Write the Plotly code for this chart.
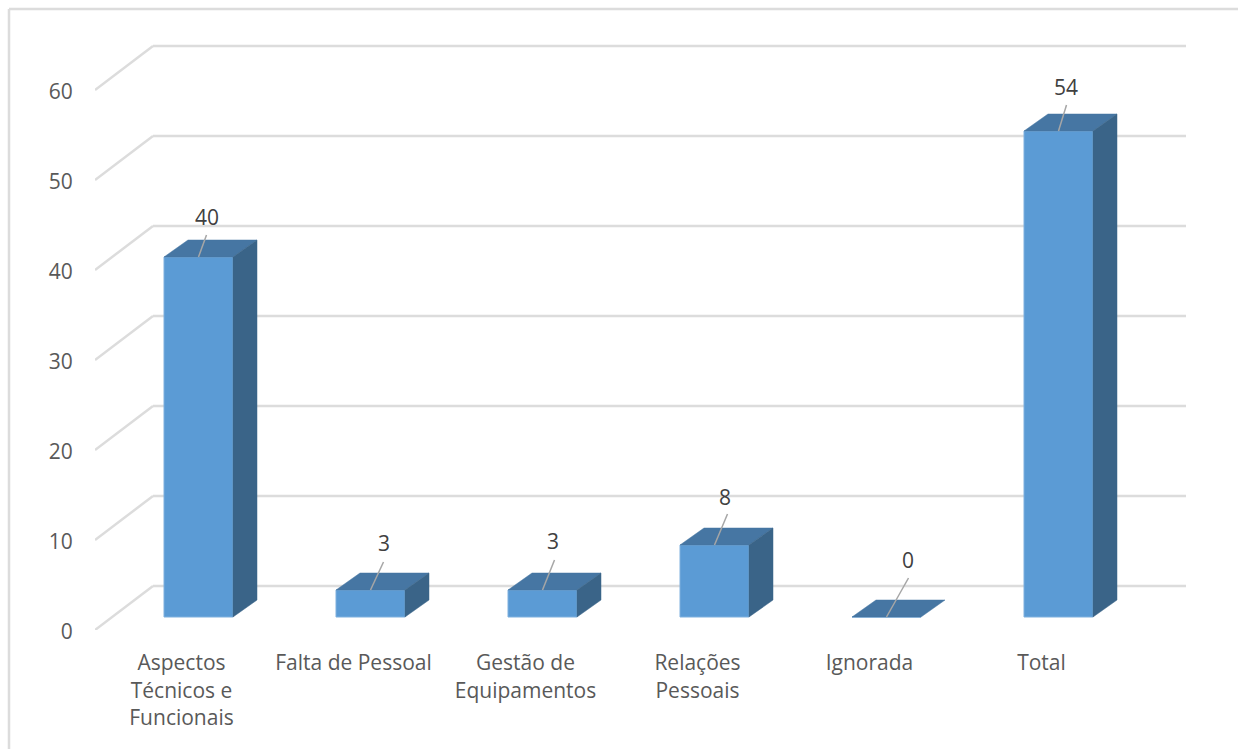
import plotly.graph_objects as go

# Data
categories = ["Aspectos<br>Técnicos e<br>Funcionais", "Falta de Pessoal", "Gestão de<br>Equipamentos",
              "Relações<br>Pessoais", "Ignorada", "Total"]
values = [40, 3, 3, 8, 0, 54]
y_ticks = [0, 10, 20, 30, 40, 50, 60]
label_dx = [8, 13, 10, 10, 21, 7]
label_dy = [-40, -47, -49, -48, -57, -44]
leader_dx = [8, 13, 12, 13, 22, 8]
leader_dy = [-22, -28, -30, -31, -39, -26]

# Geometry / style
W, H = 1238, 749
L, R, T, B = 95, 1186, 43, 630
PX_X = 172.0   # px per category
PX_Y = 9.0     # px per value unit
X0 = 181.5     # px of first category on the front plane
xmin, xmax = (L - X0) / PX_X, (R - X0) / PX_X
ymin, ymax = 0, (B - T) / PX_Y
wall_dx, wall_dy = 58 / PX_X, 44 / PX_Y
bar_dx, bar_dy = 17 / PX_X, 13 / PX_Y
bar_w = 69 / PX_X
depth_x, depth_y = 24 / PX_X, 17 / PX_Y
FRONT, TOP, SIDE = "#5B9BD5", "#4676A3", "#3A6488"
GRID = "#DCDCDC"

xs = list(range(len(values)))
fig = go.Figure()

fig.add_bar(x=[i + bar_dx for i in xs], y=values, base=bar_dy, width=bar_w,
            marker=dict(color=FRONT, line=dict(color="#7FB0DE", width=1)), showlegend=False, hoverinfo="skip")

for i, v in zip(xs, values):
    l = i + bar_dx - bar_w / 2
    r = i + bar_dx + bar_w / 2
    b, t = bar_dy, bar_dy + v
    fig.add_scatter(x=[l, r, r + depth_x, l + depth_x, l], y=[t, t, t + depth_y, t + depth_y, t],
                    mode="lines", fill="toself", fillcolor=TOP, line=dict(color=TOP, width=0.5),
                    showlegend=False, hoverinfo="skip", cliponaxis=False)
    if v > 0:
        fig.add_scatter(x=[r, r + depth_x, r + depth_x, r, r], y=[b, b + depth_y, t + depth_y, t, b],
                        mode="lines", fill="toself", fillcolor=SIDE, line=dict(color=SIDE, width=0.5),
                        showlegend=False, hoverinfo="skip", cliponaxis=False)

# leader lines, drawn after every bar face
for i, v, dx, dy in zip(xs, values, leader_dx, leader_dy):
    cx, top = i + bar_dx, bar_dy + v
    fig.add_scatter(x=[cx, cx + dx / PX_X], y=[top, top - dy / PX_Y], mode="lines",
                    line=dict(color="#A6A6A6", width=1.5), showlegend=False, hoverinfo="skip", cliponaxis=False)

shapes = []
for v in y_ticks:
    shapes.append(dict(type="line", layer="below", x0=xmin, y0=v, x1=xmin + wall_dx, y1=v + wall_dy,
                       line=dict(color=GRID, width=2.5)))
    shapes.append(dict(type="line", layer="below", x0=xmin + wall_dx, y0=v + wall_dy, x1=xmax, y1=v + wall_dy,
                       line=dict(color=GRID, width=2.5)))
# chart-area border
shapes.append(dict(type="line", xref="paper", yref="paper", layer="below",
                   x0=(9 - L) / (R - L), x1=(9 - L) / (R - L), y0=(B - H) / (B - T), y1=(B - 9) / (B - T),
                   line=dict(color=GRID, width=2.5)))
shapes.append(dict(type="line", xref="paper", yref="paper", layer="below",
                   x0=(9 - L) / (R - L), x1=(W - L) / (R - L), y0=(B - 9) / (B - T), y1=(B - 9) / (B - T),
                   line=dict(color=GRID, width=2.5)))

annotations = []
for i, v, dx, dy in zip(xs, values, label_dx, label_dy):
    annotations.append(dict(x=i + bar_dx, y=bar_dy + v, xref="x", yref="y", xshift=dx, yshift=-dy,
                            text=str(v), showarrow=False, xanchor="center", yanchor="middle",
                            font=dict(family="Open Sans", size=21, color="#404040")))

fig.update_layout(
    width=W, height=H, margin=dict(l=L, r=W - R, t=T, b=H - B, autoexpand=False),
    paper_bgcolor="white", plot_bgcolor="white", showlegend=False,
    font=dict(family="Open Sans", size=21, color="#595959"),
    xaxis=dict(range=[xmin, xmax], tickmode="array", tickvals=xs, ticktext=categories,
               showgrid=False, zeroline=False, showline=False, ticks="outside", ticklen=14,
               tickcolor="rgba(0,0,0,0)", tickangle=0),
    yaxis=dict(range=[ymin, ymax], tickmode="array", tickvals=y_ticks, ticktext=[str(t) for t in y_ticks],
               showgrid=False, zeroline=False, showline=False, ticks="outside", ticklen=17,
               tickcolor="rgba(0,0,0,0)", ticklabelshift=2),
    shapes=shapes, annotations=annotations,
)

fig.write_html("out.html", config=dict(displayModeBar=False),
               post_script="document.body.style.margin='0';document.body.style.overflow='hidden';")
